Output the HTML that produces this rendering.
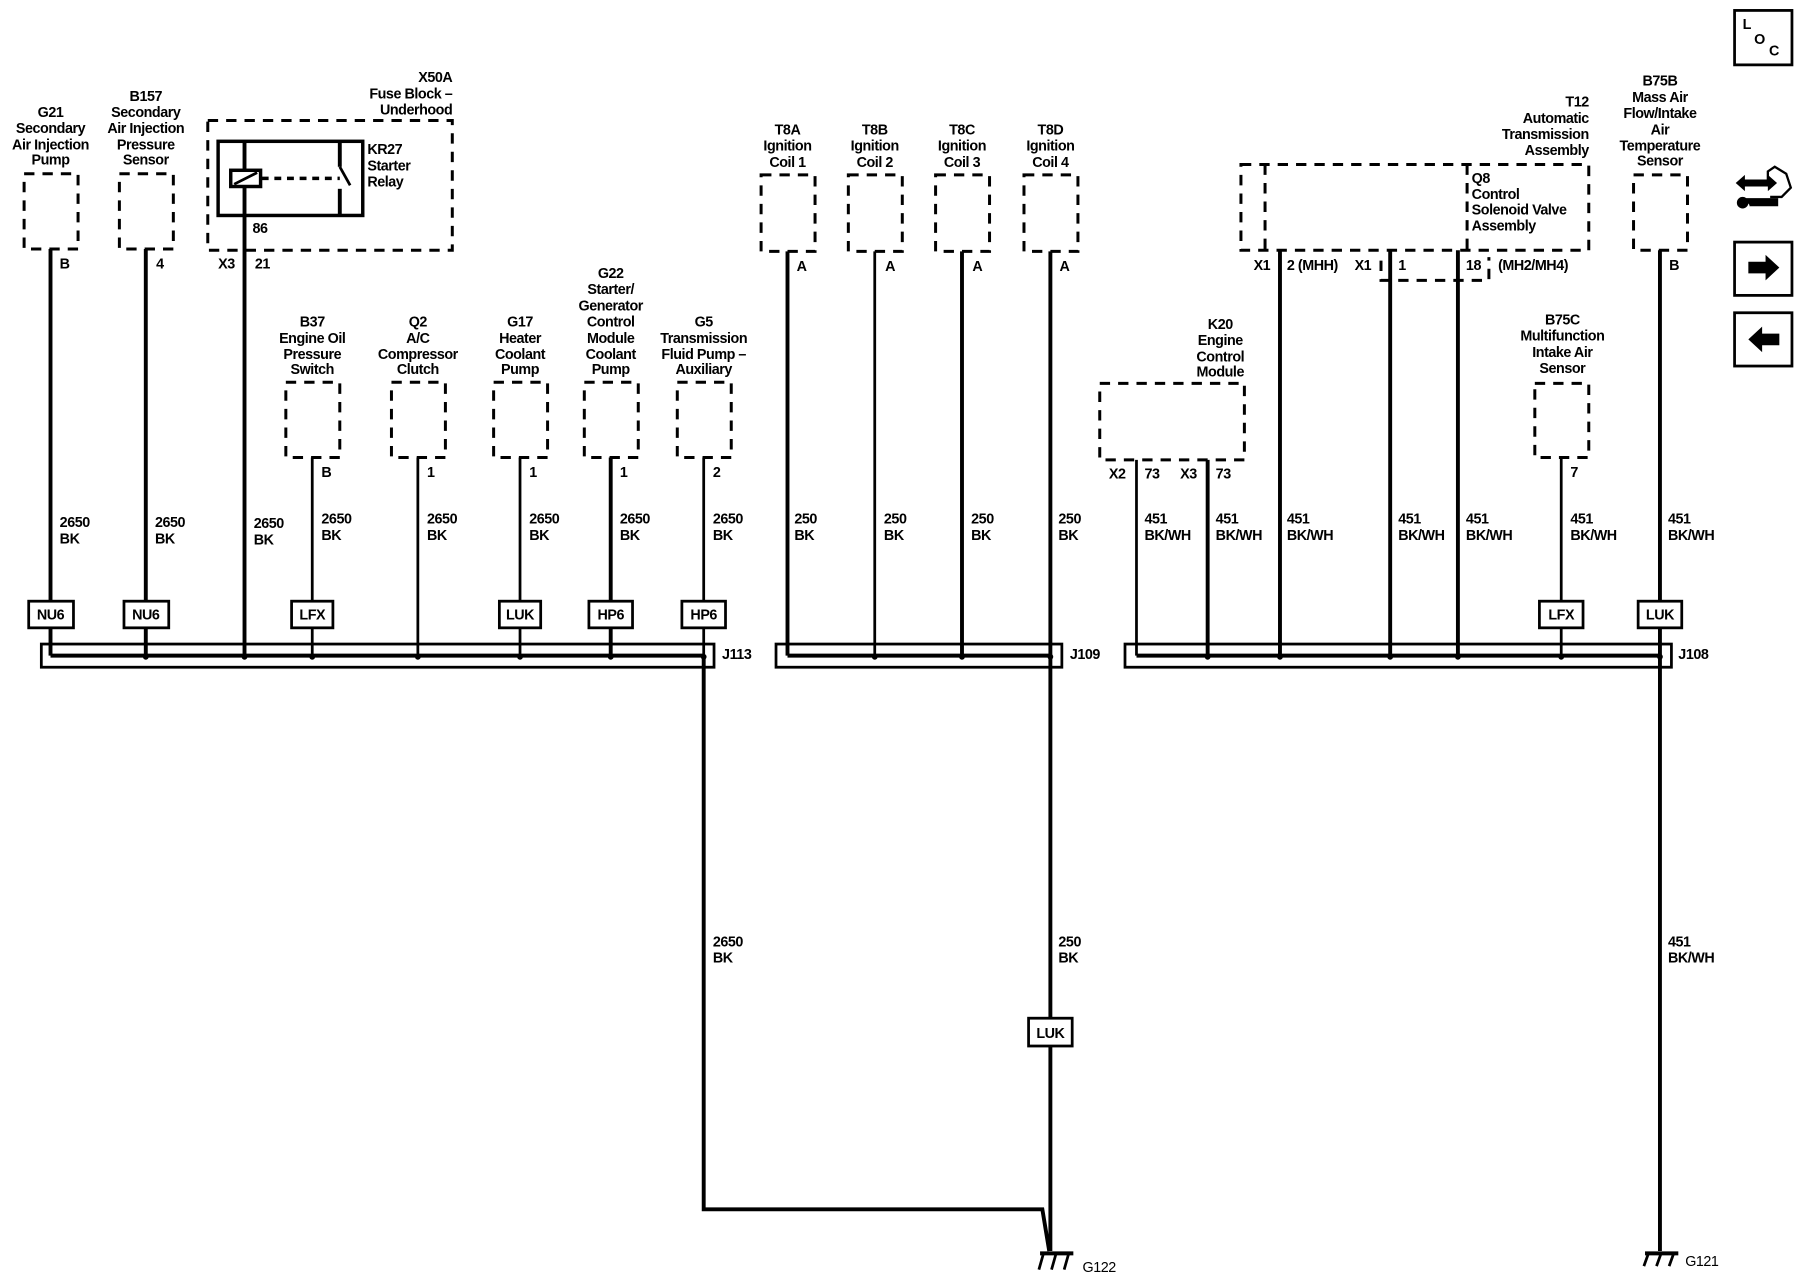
<!DOCTYPE html>
<html><head><meta charset="utf-8"><style>
html,body{margin:0;padding:0;background:#fff;}
svg{display:block;}
text{font-family:"Liberation Sans",sans-serif;font-weight:bold;font-size:12.5px;fill:#000;letter-spacing:-0.4px;}
.c{text-anchor:middle;}
.r{text-anchor:end;}
.d{fill:none;stroke:#000;stroke-width:2.6;stroke-dasharray:9,7;}
.w{stroke:#000;stroke-width:2.4;fill:none;}
.W{stroke:#000;stroke-width:3.4;fill:none;}
.b{fill:#fff;stroke:#000;stroke-width:2.4;}
</style></head><body>
<svg width="1800" height="1280" viewBox="0 0 1568 1105" preserveAspectRatio="none" xmlns="http://www.w3.org/2000/svg">
<!-- top-left components -->
<text class="c" x="44" y="101">G21</text><text class="c" x="44" y="115">Secondary</text><text class="c" x="44" y="129">Air Injection</text><text class="c" x="44" y="142">Pump</text>
<rect class="d" x="21" y="150" width="47" height="65"/>
<line class="W" x1="44" y1="215" x2="44" y2="566"/><text x="52" y="232">B</text>
<text class="c" x="127" y="87">B157</text><text class="c" x="127" y="101">Secondary</text><text class="c" x="127" y="115">Air Injection</text><text class="c" x="127" y="129">Pressure</text><text class="c" x="127" y="142">Sensor</text>
<rect class="d" x="104" y="150" width="47" height="65"/>
<line class="W" x1="127" y1="215" x2="127" y2="566"/><text x="136" y="232">4</text>
<!-- X50A -->
<text class="r" x="394" y="71">X50A</text><text class="r" x="394" y="85">Fuse Block –</text><text class="r" x="394" y="99">Underhood</text>
<rect class="d" x="181" y="104" width="213" height="112"/>
<rect x="190" y="122" width="126" height="64" fill="none" stroke="#000" stroke-width="3"/>
<line class="W" x1="213" y1="122" x2="213" y2="566"/>
<rect x="201" y="147" width="26" height="14" fill="#fff" stroke="#000" stroke-width="3"/>
<line class="w" x1="204" y1="159" x2="224" y2="149"/>
<line x1="228" y1="154" x2="296" y2="154" stroke="#000" stroke-width="3" stroke-dasharray="6,5"/>
<line class="W" x1="296" y1="122" x2="296" y2="144"/><line class="W" x1="296" y1="163" x2="296" y2="186"/>
<line class="w" x1="296" y1="144" x2="305" y2="160"/>
<text x="320" y="133">KR27</text><text x="320" y="147">Starter</text><text x="320" y="161">Relay</text>
<text x="220" y="201">86</text><text x="190" y="232">X3</text><text x="222" y="232">21</text>
<!-- row 2 components -->
<text class="c" x="272" y="282">B37</text><text class="c" x="272" y="296">Engine Oil</text><text class="c" x="272" y="310">Pressure</text><text class="c" x="272" y="323">Switch</text>
<rect class="d" x="249" y="330" width="47" height="65"/><line class="w" x1="272" y1="395" x2="272" y2="566"/><text x="280" y="412">B</text>
<text class="c" x="364" y="282">Q2</text><text class="c" x="364" y="296">A/C</text><text class="c" x="364" y="310">Compressor</text><text class="c" x="364" y="323">Clutch</text>
<rect class="d" x="341" y="330" width="47" height="65"/><line class="w" x1="364" y1="395" x2="364" y2="566"/><text x="372" y="412">1</text>
<text class="c" x="453" y="282">G17</text><text class="c" x="453" y="296">Heater</text><text class="c" x="453" y="310">Coolant</text><text class="c" x="453" y="323">Pump</text>
<rect class="d" x="430" y="330" width="47" height="65"/><line class="w" x1="453" y1="395" x2="453" y2="566"/><text x="461" y="412">1</text>
<text class="c" x="532" y="240">G22</text><text class="c" x="532" y="254">Starter/</text><text class="c" x="532" y="268">Generator</text><text class="c" x="532" y="282">Control</text><text class="c" x="532" y="296">Module</text><text class="c" x="532" y="310">Coolant</text><text class="c" x="532" y="323">Pump</text>
<rect class="d" x="509" y="330" width="47" height="65"/><line class="W" x1="532" y1="395" x2="532" y2="566"/><text x="540" y="412">1</text>
<text class="c" x="613" y="282">G5</text><text class="c" x="613" y="296">Transmission</text><text class="c" x="613" y="310">Fluid Pump –</text><text class="c" x="613" y="323">Auxiliary</text>
<rect class="d" x="590" y="330" width="47" height="65"/><line class="w" x1="613" y1="395" x2="613" y2="566"/><text x="621" y="412">2</text>
<!-- wire labels J113 -->
<g>
<text x="52" y="455">2650</text><text x="52" y="469">BK</text>
<text x="135" y="455">2650</text><text x="135" y="469">BK</text>
<text x="221" y="456">2650</text><text x="221" y="470">BK</text>
<text x="280" y="452">2650</text><text x="280" y="466">BK</text>
<text x="372" y="452">2650</text><text x="372" y="466">BK</text>
<text x="461" y="452">2650</text><text x="461" y="466">BK</text>
<text x="540" y="452">2650</text><text x="540" y="466">BK</text>
<text x="621" y="452">2650</text><text x="621" y="466">BK</text>
</g>
<!-- connectors J113 -->
<rect class="b" x="25" y="519" width="39" height="23"/><text class="c" x="44" y="535">NU6</text>
<rect class="b" x="108" y="519" width="39" height="23"/><text class="c" x="127" y="535">NU6</text>
<rect class="b" x="254" y="519" width="36" height="23"/><text class="c" x="272" y="535">LFX</text>
<rect class="b" x="435" y="519" width="36" height="23"/><text class="c" x="453" y="535">LUK</text>
<rect class="b" x="513" y="519" width="38" height="23"/><text class="c" x="532" y="535">HP6</text>
<rect class="b" x="594" y="519" width="38" height="23"/><text class="c" x="613" y="535">HP6</text>
<!-- J113 bus -->
<rect x="36" y="556" width="586" height="20" fill="none" stroke="#000" stroke-width="2.4"/>
<line class="W" x1="44" y1="566" x2="613" y2="566"/>
<g fill="#000"><circle cx="127" cy="567" r="2.5"/><circle cx="213" cy="567" r="2.5"/><circle cx="272" cy="567" r="2.5"/><circle cx="364" cy="567" r="2.5"/><circle cx="453" cy="567" r="2.5"/><circle cx="532" cy="567" r="2.5"/><circle cx="613" cy="567" r="2.5"/></g>
<text x="629" y="569">J113</text>
<!-- G122 path -->
<path class="W" d="M613 566 V1044 H908 L914 1080"/>
<text x="621" y="817">2650</text><text x="621" y="831">BK</text>
<!-- T8 coils -->
<text class="c" x="686" y="116">T8A</text><text class="c" x="686" y="130">Ignition</text><text class="c" x="686" y="144">Coil 1</text>
<rect class="d" x="663" y="151" width="47" height="66"/><line class="W" x1="686" y1="217" x2="686" y2="566"/><text x="694" y="234">A</text>
<text class="c" x="762" y="116">T8B</text><text class="c" x="762" y="130">Ignition</text><text class="c" x="762" y="144">Coil 2</text>
<rect class="d" x="739" y="151" width="47" height="66"/><line class="w" x1="762" y1="217" x2="762" y2="566"/><text x="771" y="234">A</text>
<text class="c" x="838" y="116">T8C</text><text class="c" x="838" y="130">Ignition</text><text class="c" x="838" y="144">Coil 3</text>
<rect class="d" x="815" y="151" width="47" height="66"/><line class="W" x1="838" y1="217" x2="838" y2="566"/><text x="847" y="234">A</text>
<text class="c" x="915" y="116">T8D</text><text class="c" x="915" y="130">Ignition</text><text class="c" x="915" y="144">Coil 4</text>
<rect class="d" x="892" y="151" width="47" height="66"/><line class="W" x1="915" y1="217" x2="915" y2="1080"/><text x="923" y="234">A</text>
<text x="692" y="452">250</text><text x="692" y="466">BK</text>
<text x="770" y="452">250</text><text x="770" y="466">BK</text>
<text x="846" y="452">250</text><text x="846" y="466">BK</text>
<text x="922" y="452">250</text><text x="922" y="466">BK</text>
<rect x="676" y="556" width="249" height="20" fill="none" stroke="#000" stroke-width="2.4"/>
<line class="W" x1="686" y1="566" x2="915" y2="566"/>
<g fill="#000"><circle cx="762" cy="567" r="2.5"/><circle cx="838" cy="567" r="2.5"/><circle cx="915" cy="567" r="2.5"/></g>
<text x="932" y="569">J109</text>
<text x="922" y="817">250</text><text x="922" y="831">BK</text>
<rect class="b" x="896" y="879" width="38" height="24"/><text class="c" x="915" y="896">LUK</text>
<!-- G122 ground -->
<line class="W" x1="906" y1="1082" x2="935" y2="1082"/>
<path class="w" d="M909 1082 L905 1096 M920 1082 L916 1096 M931 1082 L927 1096"/>
<text x="943" y="1098" style="font-weight:normal">G122</text>
<!-- T12 -->
<text class="r" x="1384" y="92">T12</text><text class="r" x="1384" y="106">Automatic</text><text class="r" x="1384" y="120">Transmission</text><text class="r" x="1384" y="134">Assembly</text>
<rect class="d" x="1081" y="142" width="303" height="74"/>
<line class="d" x1="1102" y1="142" x2="1102" y2="216"/>
<line class="d" x1="1278" y1="142" x2="1278" y2="216"/>
<text x="1282" y="158">Q8</text><text x="1282" y="172">Control</text><text x="1282" y="185">Solenoid Valve</text><text x="1282" y="199">Assembly</text>
<path class="d" d="M1203 225 V242 H1297 V222"/>
<text x="1092" y="233">X1</text><text x="1121" y="233">2 (MHH)</text><text x="1180" y="233">X1</text><text x="1218" y="233">1</text><text x="1277" y="233">18</text><text x="1305" y="233">(MH2/MH4)</text>
<line class="W" x1="1115" y1="216" x2="1115" y2="566"/>
<line class="W" x1="1211" y1="216" x2="1211" y2="566"/>
<line class="W" x1="1270" y1="216" x2="1270" y2="566"/>
<!-- K20 -->
<text class="c" x="1063" y="284">K20</text><text class="c" x="1063" y="298">Engine</text><text class="c" x="1063" y="312">Control</text><text class="c" x="1063" y="325">Module</text>
<rect class="d" x="958" y="331" width="126" height="66"/>
<text x="966" y="413">X2</text><text x="997" y="413">73</text><text x="1028" y="413">X3</text><text x="1059" y="413">73</text>
<line class="w" x1="990" y1="397" x2="990" y2="566"/>
<line class="W" x1="1052" y1="397" x2="1052" y2="566"/>
<!-- B75C -->
<text class="c" x="1361" y="280">B75C</text><text class="c" x="1361" y="294">Multifunction</text><text class="c" x="1361" y="308">Intake Air</text><text class="c" x="1361" y="322">Sensor</text>
<rect class="d" x="1337" y="331" width="47" height="64"/><line class="w" x1="1360" y1="395" x2="1360" y2="566"/><text x="1368" y="412">7</text>
<!-- B75B -->
<text class="c" x="1446" y="74">B75B</text><text class="c" x="1446" y="88">Mass Air</text><text class="c" x="1446" y="102">Flow/Intake</text><text class="c" x="1446" y="116">Air</text><text class="c" x="1446" y="130">Temperature</text><text class="c" x="1446" y="143">Sensor</text>
<rect class="d" x="1423" y="151" width="47" height="65"/><line class="W" x1="1446" y1="216" x2="1446" y2="1080"/><text x="1454" y="233">B</text>
<g>
<text x="997" y="452">451</text><text x="997" y="466">BK/WH</text>
<text x="1059" y="452">451</text><text x="1059" y="466">BK/WH</text>
<text x="1121" y="452">451</text><text x="1121" y="466">BK/WH</text>
<text x="1218" y="452">451</text><text x="1218" y="466">BK/WH</text>
<text x="1277" y="452">451</text><text x="1277" y="466">BK/WH</text>
<text x="1368" y="452">451</text><text x="1368" y="466">BK/WH</text>
<text x="1453" y="452">451</text><text x="1453" y="466">BK/WH</text>
</g>
<rect class="b" x="1341" y="519" width="38" height="23"/><text class="c" x="1360" y="535">LFX</text>
<rect class="b" x="1427" y="519" width="38" height="23"/><text class="c" x="1446" y="535">LUK</text>
<rect x="980" y="556" width="476" height="20" fill="none" stroke="#000" stroke-width="2.4"/>
<line class="W" x1="990" y1="566" x2="1446" y2="566"/>
<g fill="#000"><circle cx="1052" cy="567" r="2.5"/><circle cx="1115" cy="567" r="2.5"/><circle cx="1211" cy="567" r="2.5"/><circle cx="1270" cy="567" r="2.5"/><circle cx="1360" cy="567" r="2.5"/><circle cx="1446" cy="567" r="2.5"/></g>
<text x="1462" y="569">J108</text>
<text x="1453" y="817">451</text><text x="1453" y="831">BK/WH</text>
<line class="W" x1="1433" y1="1082" x2="1462" y2="1082"/>
<path class="w" d="M1436 1082 L1432 1093 M1447 1082 L1443 1093 M1458 1082 L1454 1093"/>
<text x="1468" y="1093" style="font-weight:normal">G121</text>
<!-- right icons -->
<rect x="1511" y="9" width="50" height="47" fill="none" stroke="#000" stroke-width="2.4"/>
<text x="1518" y="25">L</text><text x="1528" y="38">O</text><text x="1541" y="48">C</text>
<path d="M1512 158 L1520 151 V155 H1540 V151 L1548 158 L1540 165 V161 H1520 V165 Z" fill="#000"/>
<path d="M1542 170 H1552 L1560 162 L1556 150 L1546 144 L1540 148 V155" fill="none" stroke="#000" stroke-width="2"/>
<path d="M1520 172 H1548 V177 H1524" fill="#000" stroke="#000" stroke-width="2"/>
<circle cx="1518" cy="175" r="5" fill="#000"/>
<rect x="1511" y="209" width="50" height="46" fill="none" stroke="#000" stroke-width="2.4"/>
<path d="M1523 226 H1538 V220 L1550 231 L1538 242 V236 H1523 Z" fill="#000"/>
<rect x="1511" y="270" width="50" height="46" fill="none" stroke="#000" stroke-width="2.4"/>
<path d="M1550 288 H1535 V282 L1523 293 L1535 304 V298 H1550 Z" fill="#000"/>
</svg>
</body></html>
